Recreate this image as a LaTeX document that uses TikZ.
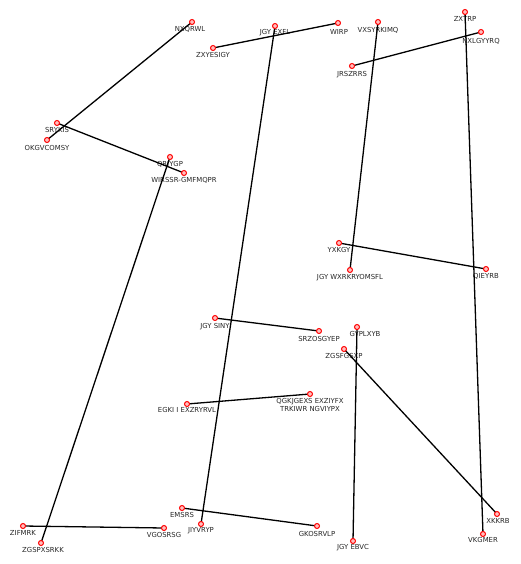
\documentclass[tikz,border=0pt]{standalone}
\usepackage{fontspec}
\setmainfont{DejaVu Sans}
\begin{document}
\begin{tikzpicture}[x=1pt,y=-1pt,
  pt/.style={circle,draw=red,fill=red!25,line width=1pt,inner sep=0pt,minimum size=5pt},
  lbl/.style={font=\fontsize{6.9}{8}\selectfont,text=black!85,inner sep=0pt,anchor=north,align=center},
  edge/.style={draw=black,line width=1.3pt}]
\useasboundingbox (0,0) rectangle (520,564);
\foreach \n/\x/\y/\lx/\ly/\t in {
 nx/192/22/190/26/NXQRWL,
 jex/275/26/275/29/JGY EXFL,
 wirp/338/23/339/29/WIRP,
 zxy/213/48/213/52/ZXYESIGY,
 vxs/378/22/378/27/VXSYRKIMQ,
 zxt/465/12/465/16/ZXTRP,
 nxl/481/32/481/38/NXLGYYRQ,
 jrs/352/66/352/71/JRSZRRS,
 sry/57/123/57/127/SRYKIS,
 okg/47/140/47/145/OKGVCOMSY,
 qri/170/157/170/161/QRIYGP,
 wir/184/173/184/177/WIRSSR-GMFMQPR,
 yxk/339/243/339/247/YXKGY,
 jwx/350/270/350/274/JGY WXRKRYOMSFL,
 qie/486/269/486/273/QIEYRB,
 jsi/215/318/215/323/JGY SINY,
 srz/319/331/319/336/SRZOSGYEP,
 gyp/357/327/365/331/GYPLXYB,
 zgs/344/349/344/353/ZGSFGSXP,
 egk/187/404/187/407/EGKI I EXZRYRVL,
 ems/182/508/182/512/EMSRS,
 jiy/201/524/201/527/JIYVRYP,
 zif/23/526/23/530/ZIFMRK,
 vgo/164/528/164/532/VGOSRSG,
 zgp/41/543/43/547/ZGSPXSRKK,
 gko/317/526/317/531/GKOSRVLP,
 jeb/353/541/353/544/JGY EBVC,
 xkk/497/514/498/518/XKKRB,
 vkg/483/534/483/537/VKGMER}{
  \coordinate (\n) at (\x,\y);
  \node[lbl] (\n-l) at (\lx,\ly) {\t};
}
\coordinate (qgk) at (310,394);
\node[lbl] (qgk-l) at (310,398) {QGKJGEXS EXZIYFX\\TRKIWR NGVIYPX};
\foreach \a/\b in {nx/okg, sry/wir, qri/zgp, zxy/wirp, jex/jiy, vxs/jwx, zxt/vkg, nxl/jrs, yxk/qie, jsi/srz, gyp/jeb, zgs/xkk, egk/qgk, ems/gko, zif/vgo}
  \draw[edge] (\a) -- (\b);
\foreach \n in {nx,jex,wirp,zxy,vxs,zxt,nxl,jrs,sry,okg,qri,wir,yxk,jwx,qie,jsi,srz,gyp,zgs,egk,ems,jiy,zif,vgo,zgp,gko,jeb,xkk,vkg,qgk}
  \node[pt] at (\n) {};
\end{tikzpicture}
\end{document}
